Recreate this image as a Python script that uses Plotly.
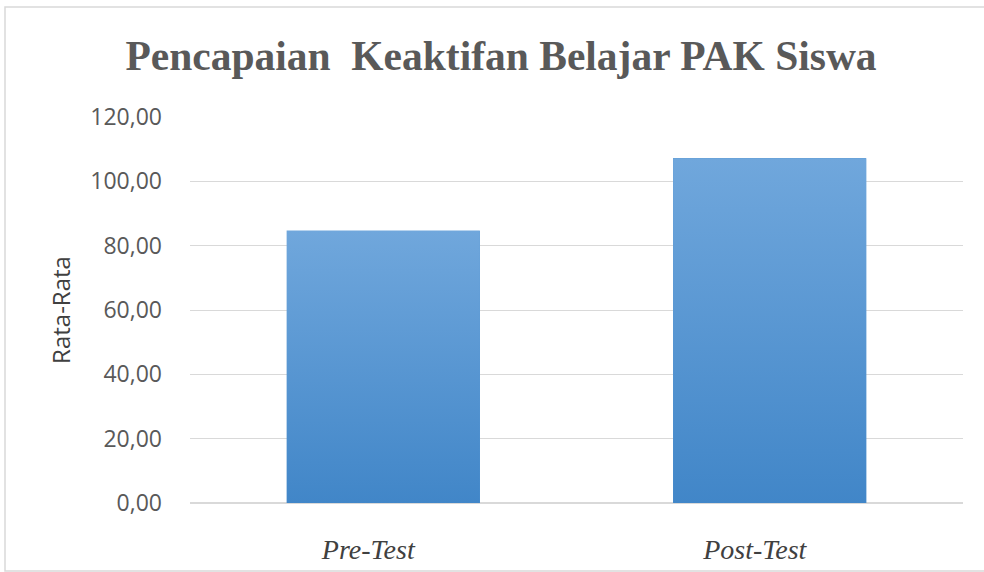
import plotly.graph_objects as go

categories = ["Pre-Test", "Post-Test"]
values = [84.7, 107.2]
y_ticks = [0, 20, 40, 60, 80, 100, 120]
y_tick_labels = ["0,00", "20,00", "40,00", "60,00", "80,00", "100,00", "120,00"]
title_text = "Pencapaian\u00a0 Keaktifan Belajar PAK Siswa"
y_title = "Rata-Rata"

bar_width = 0.5
top_color = "#70a7dc"
bottom_color = "#4186c8"

fig = go.Figure()

# base bars (solid)
fig.add_trace(go.Bar(
    x=list(range(len(categories))), y=values, width=bar_width,
    marker=dict(color="#5797d3", line=dict(width=0)),
    hovertext=categories, hoverinfo="text+y", showlegend=False,
))

# gradient overlay per bar, built from the same data
for i, v in enumerate(values):
    x0, x1 = i - bar_width / 2, i + bar_width / 2
    fig.add_trace(go.Scatter(
        x=[x0, x1, x1, x0, x0], y=[0, 0, v, v, 0],
        mode="lines", fill="toself", line=dict(width=0),
        fillgradient=dict(type="vertical",
                          colorscale=[[0, bottom_color], [1, top_color]]),
        hoverinfo="skip", showlegend=False,
    ))

W, H = 984, 572
L, R, T, B = 190, 21, 117, 69
pw, ph = W - L - R, H - T - B

def px_x(p):
    return (p - L) / pw

def px_y(p):
    return (H - B - p) / ph

fig.update_layout(
    width=W, height=H,
    margin=dict(l=L, r=R, t=T, b=B),
    paper_bgcolor="white", plot_bgcolor="white",
    title=dict(text=title_text, x=501 / W, xanchor="center", xref="container",
               y=1 - 55 / H, yanchor="middle", yref="container",
               font=dict(family="Liberation Serif", size=41.5, color="#595959", weight="bold")),
    xaxis=dict(range=[-0.5, 1.5], tickvals=list(range(len(categories))), ticktext=categories,
               showgrid=False, zeroline=False, showline=False, ticks="",
               automargin=False,
               ticklabelstandoff=27, ticklabelshift=-15,
               tickfont=dict(family="Liberation Serif", size=28, color="#404040", style="italic")),
    yaxis=dict(range=[0, 120], tickvals=y_ticks, ticktext=y_tick_labels,
               showgrid=True, gridcolor="#d9d9d9", gridwidth=1.3,
               zeroline=True, zerolinecolor="#d9d9d9", zerolinewidth=1.5,
               showline=False, ticks="", ticklabelstandoff=27, automargin=False,
               tickfont=dict(family="Open Sans", size=23, color="#595959"),
               title=dict(text=y_title, standoff=12,
                          font=dict(family="Open Sans", size=24, color="#404040"))),
    shapes=[dict(type="rect", xref="paper", yref="paper",
                 x0=px_x(5), x1=px_x(W + 10), y0=px_y(571), y1=px_y(7),
                 line=dict(color="#d9d9d9", width=1.5), fillcolor="rgba(0,0,0,0)",
                 layer="below")],
    bargap=0,
)

fig.write_html("out.html", config={"displayModeBar": False},
               post_script="document.body.style.margin='0';")
